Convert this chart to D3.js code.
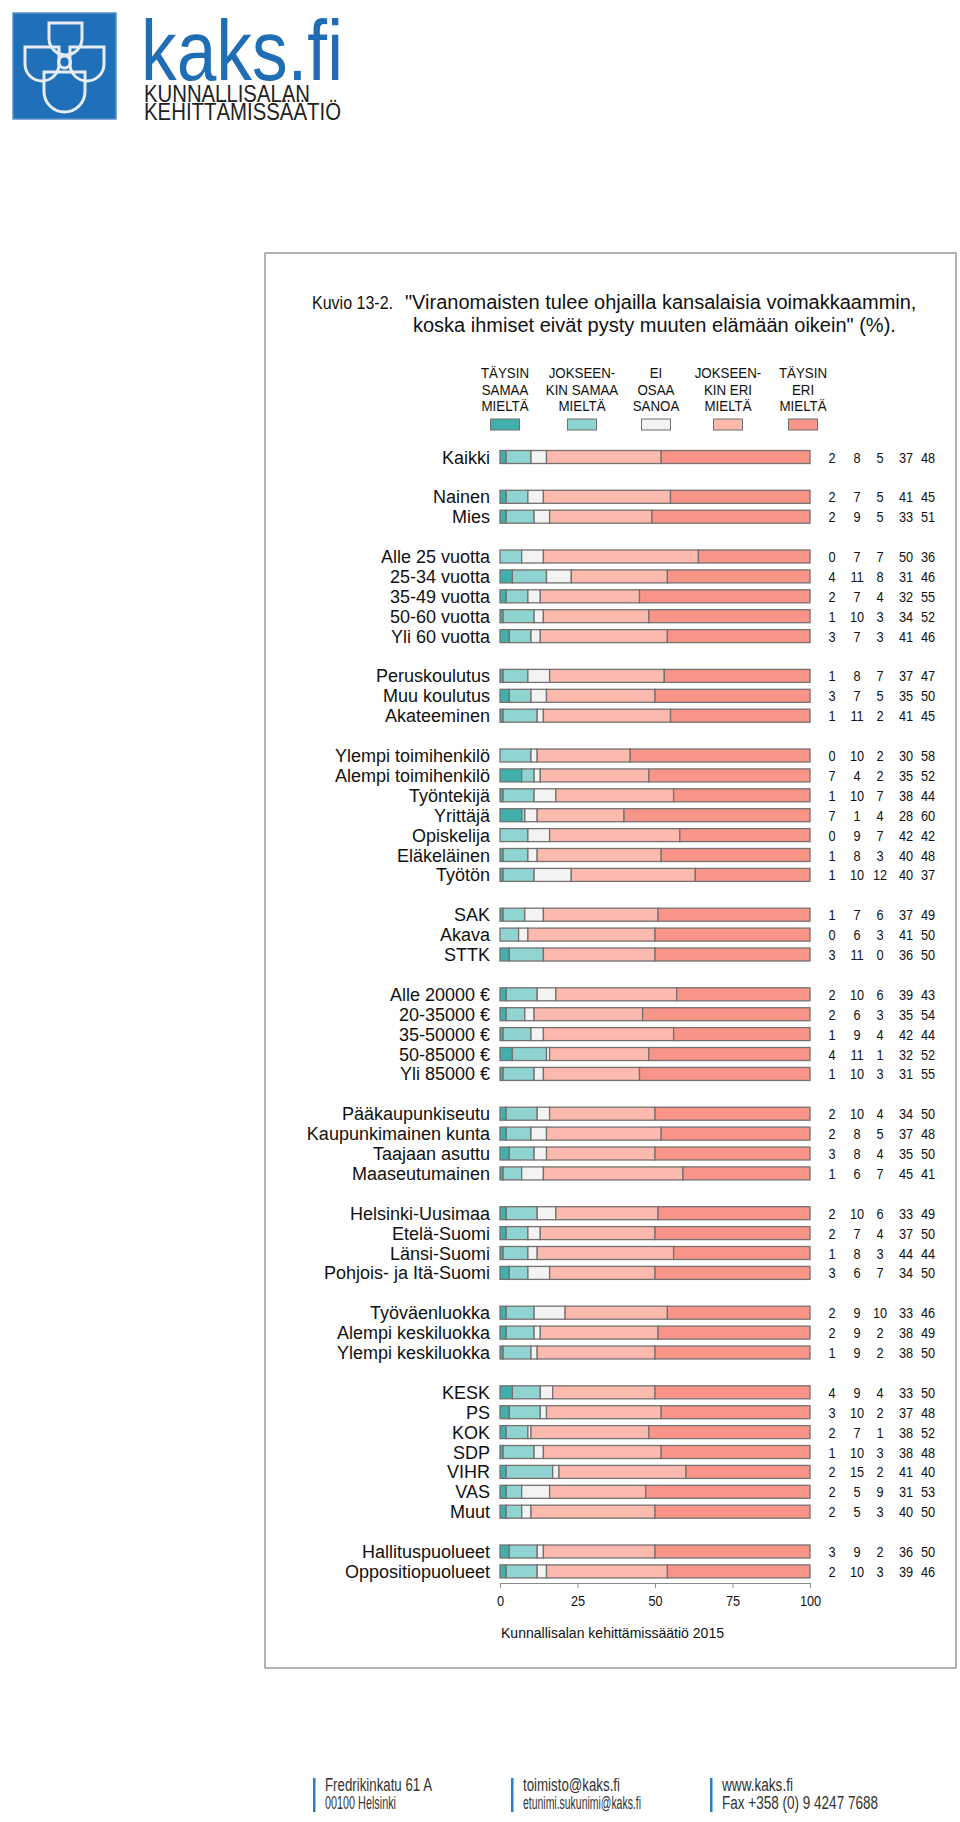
<!DOCTYPE html>
<html lang="fi">
  <head>
    <meta charset="utf-8">
    <title>Kuvio 13-2</title>
    <script src="https://d3js.org/d3.v7.min.js"></script>
    <style>
      body { margin: 0; background: #fff; }
      text { font-family: "Liberation Sans", Arial, sans-serif; fill: #111; }
    </style>
  </head>
  <body>
    <div id="chart"></div>
    <script>
      // row groups (a gap row is left between groups)
      var groups = [
        ["Kaikki"],
        ["Nainen", "Mies"],
        ["Alle 25 vuotta", "25-34 vuotta", "35-49 vuotta", "50-60 vuotta", "Yli 60 vuotta"],
        ["Peruskoulutus", "Muu koulutus", "Akateeminen"],
        ["Ylempi toimihenkilö", "Alempi toimihenkilö", "Työntekijä", "Yrittäjä", "Opiskelija", "Eläkeläinen", "Työtön"],
        ["SAK", "Akava", "STTK"],
        ["Alle 20000 €", "20-35000 €", "35-50000 €", "50-85000 €", "Yli 85000 €"],
        ["Pääkaupunkiseutu", "Kaupunkimainen kunta", "Taajaan asuttu", "Maaseutumainen"],
        ["Helsinki-Uusimaa", "Etelä-Suomi", "Länsi-Suomi", "Pohjois- ja Itä-Suomi"],
        ["Työväenluokka", "Alempi keskiluokka", "Ylempi keskiluokka"],
        ["KESK", "PS", "KOK", "SDP", "VIHR", "VAS", "Muut"],
        ["Hallituspuolueet", "Oppositiopuolueet"]
      ];

      var taysinSamaa     = [2, 2, 2, 0, 4, 2, 1, 3, 1, 3, 1, 0, 7, 1, 7, 0, 1, 1, 1, 0, 3, 2, 2, 1, 4, 1, 2, 2, 3, 1, 2, 2, 1, 3, 2, 2, 1, 4, 3, 2, 1, 2, 2, 2, 3, 2];
      var jokseenkinSamaa = [8, 7, 9, 7, 11, 7, 10, 7, 8, 7, 11, 10, 4, 10, 1, 9, 8, 10, 7, 6, 11, 10, 6, 9, 11, 10, 10, 8, 8, 6, 10, 7, 8, 6, 9, 9, 9, 9, 10, 7, 10, 15, 5, 5, 9, 10];
      var eiOsaaSanoa     = [5, 5, 5, 7, 8, 4, 3, 3, 7, 5, 2, 2, 2, 7, 4, 7, 3, 12, 6, 3, 0, 6, 3, 4, 1, 3, 4, 5, 4, 7, 6, 4, 3, 7, 10, 2, 2, 4, 2, 1, 3, 2, 9, 3, 2, 3];
      var jokseenkinEri   = [37, 41, 33, 50, 31, 32, 34, 41, 37, 35, 41, 30, 35, 38, 28, 42, 40, 40, 37, 41, 36, 39, 35, 42, 32, 31, 34, 37, 35, 45, 33, 37, 44, 34, 33, 38, 38, 33, 37, 38, 38, 41, 31, 40, 36, 39];
      var taysinEri       = [48, 45, 51, 36, 46, 55, 52, 46, 47, 50, 45, 58, 52, 44, 60, 42, 48, 37, 49, 50, 50, 43, 54, 44, 52, 55, 50, 48, 50, 41, 49, 50, 44, 50, 46, 49, 50, 50, 48, 52, 48, 40, 53, 50, 50, 46];

      var seriesNames = ["TÄYSIN\nSAMAA\nMIELTÄ", "JOKSEEN-\nKIN SAMAA\nMIELTÄ", "EI\nOSAA\nSANOA", "JOKSEEN-\nKIN ERI\nMIELTÄ", "TÄYSIN\nERI\nMIELTÄ"];
      var colors = ["#3fb0ab", "#8fd4d0", "#f3f3f3", "#fcbaae", "#f99488"];
      var tickValues = [0, 25, 50, 75, 100];

      var series = [taysinSamaa, jokseenkinSamaa, eiOsaaSanoa, jokseenkinEri, taysinEri];

      // flatten groups into rows with slot index
      var rows = [];
      var slot = 0;
      groups.forEach(function(g) {
        g.forEach(function(name) {
          rows.push({ name: name, slot: slot });
          slot++;
        });
        slot++;
      });
      rows.forEach(function(r, i) {
        var acc = 0;
        r.values = series.map(function(s) { return s[i]; });
        r.segs = r.values.map(function(v, k) {
          var s = { k: k, x0: acc, x1: acc + v, v: v };
          acc += v;
          return s;
        });
      });

      var svg = d3.select("#chart").append("svg")
          .attr("width", 960)
          .attr("height", 1822);

      // text squeezed horizontally (narrow look)
      function narrow(parent, x, y, r, size, str) {
        return parent.append("text")
            .attr("transform", "translate(" + x + "," + y + ") scale(" + r + ",1)")
            .style("font-size", size + "px")
            .text(str);
      }

      // ---- logo ----
      var logo = svg.append("g");
      logo.append("rect").attr("x", 13).attr("y", 13).attr("width", 103).attr("height", 106)
          .attr("fill", "#1f6fb9").attr("stroke", "#5a8fc8").attr("stroke-width", 1.5);
      function shield(x, y, w, h) {
        var r = w / 2;
        return "M" + x + "," + y + "H" + (x + w) + "V" + (y + h - r) +
          "A" + r + "," + r + " 0 0 1 " + x + "," + (y + h - r) + "Z";
      }
      [[49, 23, 33, 32], [25, 47, 34, 34], [70, 47, 34, 34], [44, 72, 41, 40]].forEach(function(s) {
        logo.append("path").attr("d", shield(s[0], s[1], s[2], s[3]))
            .attr("fill", "none").attr("stroke", "#e6ecf4").attr("stroke-width", 3);
      });
      logo.append("circle").attr("cx", 64.5).attr("cy", 62).attr("r", 6)
          .attr("fill", "none").attr("stroke", "#e6ecf4").attr("stroke-width", 3);
      logo.append("text").attr("x", 141).attr("y", 80).attr("textLength", 202).attr("lengthAdjust", "spacingAndGlyphs")
          .style("font-size", "86px").style("fill", "#1f6db4").text("kaks.fi");
      logo.append("text").attr("x", 144).attr("y", 102).attr("textLength", 166).attr("lengthAdjust", "spacingAndGlyphs")
          .style("font-size", "24px").style("fill", "#222").text("KUNNALLISALAN");
      logo.append("text").attr("x", 144).attr("y", 120).attr("textLength", 197).attr("lengthAdjust", "spacingAndGlyphs")
          .style("font-size", "24px").style("fill", "#222").text("KEHITTÄMISSÄÄTIÖ");

      // ---- frame ----
      svg.append("rect").attr("x", 265).attr("y", 253).attr("width", 691).attr("height", 1415)
          .attr("fill", "none").attr("stroke", "#9a9a9a").attr("stroke-width", 1.5);

      // ---- title ----
      svg.append("text").attr("x", 312).attr("y", 309).attr("textLength", 81).attr("lengthAdjust", "spacingAndGlyphs")
          .style("font-size", "19px").text("Kuvio 13-2.");
      svg.append("text").attr("x", 405).attr("y", 309).style("font-size", "20px")
          .text("\"Viranomaisten tulee ohjailla kansalaisia voimakkaammin,");
      svg.append("text").attr("x", 413).attr("y", 332).style("font-size", "20px")
          .text("koska ihmiset eivät pysty muuten elämään oikein\" (%).");

      // ---- scales ----
      var x = d3.scaleLinear().domain([0, 100]).range([500, 810]);
      var y = d3.scaleLinear().domain([0, 56]).range([457, 1571.4]);
      var barH = 13;

      // ---- legend ----
      var legendX = [505, 582, 656, 728, 803];
      var leg = svg.append("g").selectAll("g").data(seriesNames).enter().append("g");
      leg.each(function(d, i) {
        var g = d3.select(this);
        d.split("\n").forEach(function(line, li) {
          narrow(g, legendX[i], 378 + li * 16.5, 0.86, 15.5, line).attr("text-anchor", "middle");
        });
        g.append("rect").attr("x", legendX[i] - 14.5).attr("y", 419).attr("width", 29).attr("height", 11)
            .attr("fill", colors[i]).attr("stroke", "#6e6e6e").attr("stroke-width", 1);
      });

      // ---- bars ----
      var rowG = svg.append("g").selectAll("g").data(rows).enter().append("g")
          .attr("transform", function(d) { return "translate(0," + y(d.slot) + ")"; });

      rowG.append("text").attr("x", 490).attr("y", 6.5).attr("text-anchor", "end")
          .style("font-size", "18px").text(function(d) { return d.name; });

      rowG.selectAll("rect").data(function(d) { return d.segs.filter(function(s) { return s.v > 0; }); })
          .enter().append("rect")
          .attr("x", function(s) { return x(s.x0); })
          .attr("y", -barH / 2)
          .attr("width", function(s) { return x(s.x1) - x(s.x0); })
          .attr("height", barH)
          .attr("fill", function(s) { return colors[s.k]; })
          .attr("stroke", "#767070")
          .attr("stroke-width", 1.3);

      var valX = [832, 857, 880, 906, 928];
      rowG.each(function(d) {
        var g = d3.select(this);
        d.values.forEach(function(v, k) {
          narrow(g, valX[k], 5.5, 0.85, 15, v).attr("text-anchor", "middle");
        });
      });

      // ---- axis ----
      var axis = svg.append("g")
          .attr("transform", "translate(0,1583)")
          .call(d3.axisBottom(x).tickValues(tickValues).tickSize(5).tickSizeOuter(5));
      axis.select(".domain").attr("stroke", "#8a8a8a");
      axis.selectAll(".tick line").attr("stroke", "#8a8a8a");
      axis.selectAll(".tick text").attr("dy", 0).attr("y", 0)
          .attr("transform", "translate(0,23) scale(0.85,1)")
          .style("font-size", "15px").style("fill", "#111")
          .style("font-family", "'Liberation Sans', Arial, sans-serif");

      svg.append("text").attr("x", 501).attr("y", 1638).attr("textLength", 223).attr("lengthAdjust", "spacingAndGlyphs")
          .style("font-size", "15px").text("Kunnallisalan kehittämissäätiö 2015");

      // ---- footer ----
      var footer = [
        [313, [["Fredrikinkatu 61 A", 107], ["00100 Helsinki", 71]]],
        [511, [["toimisto@kaks.fi", 97], ["etunimi.sukunimi@kaks.fi", 118]]],
        [710, [["www.kaks.fi", 71], ["Fax +358 (0) 9 4247 7688", 156]]]
      ];
      footer.forEach(function(f) {
        svg.append("rect").attr("x", f[0]).attr("y", 1778).attr("width", 2.5).attr("height", 34).attr("fill", "#2f7cc0");
        f[1].forEach(function(line, li) {
          svg.append("text").attr("x", f[0] + 12).attr("y", 1791 + li * 18)
              .attr("textLength", line[1]).attr("lengthAdjust", "spacingAndGlyphs")
              .style("font-size", "18px").style("fill", "#333").text(line[0]);
        });
      });
    </script>
  </body>
</html>
